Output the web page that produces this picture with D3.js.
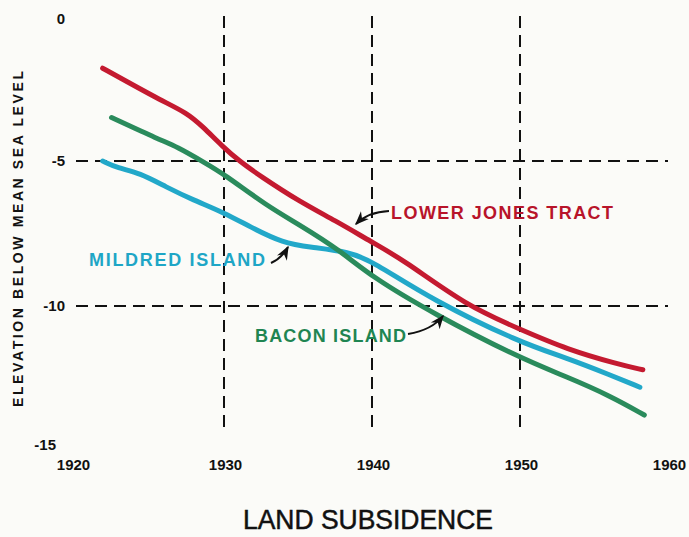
<!DOCTYPE html>
<html><head><meta charset="utf-8">
<script src="https://cdn.jsdelivr.net/npm/d3@7"></script>
<style>html,body{margin:0;padding:0;background:#fbfbf8;}svg{display:block;}</style>
</head><body>
<svg id="c" width="689" height="537"></svg>
<script>
const xTicks = [1920, 1930, 1940, 1950, 1960];
const yTicks = [0, -5, -10, -15];
const gridYears = [1930, 1940, 1950];
const gridLevels = [-5, -10];

const lowerJonesYears = [1921.8, 1923.5, 1925.7, 1927.5, 1928.6, 1929.9, 1931.1, 1932.4, 1935.1, 1937.5, 1940, 1942.1, 1946.4, 1950, 1953.2, 1956.6, 1958.3];
const lowerJonesVals  = [-1.8, -2.28, -2.9, -3.34, -3.83, -4.5, -5.03, -5.5, -6.4, -7.05, -7.8, -8.4, -10.0, -10.8, -11.5, -12.0, -12.2];

const baconYears = [1922.4, 1925.7, 1926.8, 1928.6, 1930, 1932.9, 1935.1, 1937.8, 1940, 1944.1, 1950, 1953.2, 1956.1, 1958.4];
const baconVals  = [-3.5, -4.28, -4.5, -5.03, -5.45, -6.55, -7.2, -8.07, -9.0, -10.25, -11.8, -12.45, -13.1, -13.76];

const mildredYears = [1921.8, 1922.8, 1924.3, 1926.1, 1927.9, 1930, 1931.8, 1934, 1935.8, 1938.5, 1940, 1944.1, 1950, 1953.2, 1956.1, 1958.1];
const mildredVals  = [-5.0, -5.24, -5.41, -5.9, -6.34, -6.78, -7.28, -7.83, -7.97, -8.14, -8.45, -9.8, -11.26, -11.8, -12.38, -12.8];

const seriesNames = ["LOWER JONES TRACT", "MILDRED ISLAND", "BACON ISLAND"];

const svg = d3.select("#c");
const x = d3.scaleLinear().domain([1920, 1960]).range([76, 668]);
const y = d3.scaleLinear().domain([0, -15]).range([16, 451]);

// grid
const g = svg.append("g").attr("stroke", "#111").attr("stroke-width", 2).attr("stroke-dasharray", "12,7");
gridYears.forEach(yr => g.append("line").attr("x1", x(yr)).attr("x2", x(yr)).attr("y1", 16).attr("y2", 432));
gridLevels.forEach(v => g.append("line").attr("x1", x(1920)).attr("x2", x(1960)).attr("y1", y(v)).attr("y2", y(v)));

// axes (labels only)
const font = "'Liberation Sans', Arial, sans-serif";
const xAxis = d3.axisBottom(x).tickValues(xTicks).tickSize(0).tickFormat(d3.format("d"));
const xa = svg.append("g").attr("transform", "translate(0,456)").call(xAxis);
xa.select(".domain").remove();
xa.selectAll("text").attr("font-family", font).attr("font-weight", "bold").attr("font-size", 15).attr("fill", "#111")
  .attr("dx", (d, i) => i === 0 ? -3 : 1);

const yAxis = d3.axisLeft(y).tickValues(yTicks).tickSize(0).tickFormat(d => d === 0 ? "0" : "-" + Math.abs(d));
const ya = svg.append("g").attr("transform", "translate(68,0)").call(yAxis);
ya.select(".domain").remove();
ya.selectAll("text").attr("font-family", font).attr("font-weight", "bold").attr("font-size", 15).attr("fill", "#111")
  .attr("dy", (d) => d === -15 ? "-0.1em" : (d === 0 ? "0.5em" : "0.32em"))
  .attr("x", d => d === -15 ? -12 : -3);

// axis titles
svg.append("text").attr("transform", "translate(23,239) rotate(-90)").attr("text-anchor", "middle")
  .attr("font-family", font).attr("font-weight", "bold").attr("font-size", 14).attr("fill", "#111")
  .attr("textLength", 336).attr("lengthAdjust", "spacing")
  .text("ELEVATION BELOW MEAN SEA LEVEL");
svg.append("text").attr("x", 368).attr("y", 529).attr("text-anchor", "middle")
  .attr("font-family", font).attr("font-size", 27).attr("fill", "#111")
  .attr("stroke", "#111").attr("stroke-width", 0.5)
  .attr("textLength", 250).attr("lengthAdjust", "spacingAndGlyphs")
  .text("LAND SUBSIDENCE");

// lines
const line = d3.line().x(d => x(d[0])).y(d => y(d[1])).curve(d3.curveBasis);
const series = [
  {yrs: mildredYears, vals: mildredVals, color: "#22a8c9"},
  {yrs: baconYears, vals: baconVals, color: "#2a8b5c"},
  {yrs: lowerJonesYears, vals: lowerJonesVals, color: "#c41a30"}
];
series.forEach(s => {
  svg.append("path").attr("d", line(s.yrs.map((yr, i) => [yr, s.vals[i]])))
    .attr("fill", "none").attr("stroke", s.color).attr("stroke-width", 5)
    .attr("stroke-linecap", "round").attr("stroke-linejoin", "round");
});

// annotations
svg.append("defs").append("marker").attr("id", "ah").attr("viewBox", "0 0 10 10").attr("refX", 9).attr("refY", 5)
  .attr("markerWidth", 7).attr("markerHeight", 7).attr("orient", "auto-start-reverse")
  .append("path").attr("d", "M0,1 L10,5 L0,9 L3,5 Z").attr("fill", "#111");

const labels = [
  {name: seriesNames[0], x: 391, y: 219, len: 222, color: "#b8142a", arrow: "M389,211 Q368,212 356,224"},
  {name: seriesNames[1], x: 89, y: 266, len: 176, color: "#1ea6c6", arrow: "M271,263 Q282,258 288,247"},
  {name: seriesNames[2], x: 255, y: 342, len: 151, color: "#1f8552", arrow: "M408,334 Q432,330 443,316"}
];
labels.forEach(l => {
  svg.append("text").attr("x", l.x).attr("y", l.y).attr("font-family", font).attr("font-weight", "bold")
    .attr("font-size", 18).attr("fill", l.color).attr("textLength", l.len).attr("lengthAdjust", "spacing").text(l.name);
  svg.append("path").attr("d", l.arrow).attr("fill", "none").attr("stroke", "#111").attr("stroke-width", 2)
    .attr("marker-end", "url(#ah)");
});
</script>
</body></html>
